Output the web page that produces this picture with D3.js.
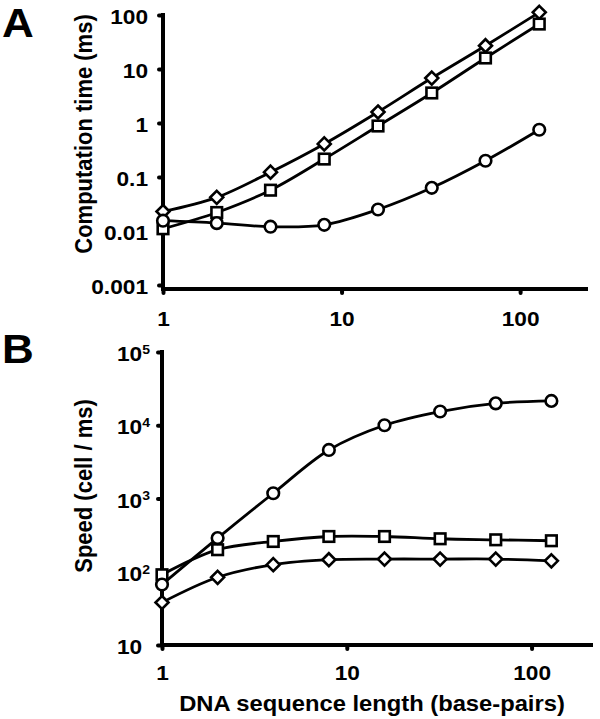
<!DOCTYPE html>
<html><head><meta charset="utf-8">
<script src="https://cdn.jsdelivr.net/npm/d3@7"></script>
<style>
body{margin:0;background:#fff;}
text{font-family:"Liberation Sans",Arial,sans-serif;font-weight:bold;fill:#000;}
</style></head>
<body><svg id="c" width="600" height="719"></svg>
<script>
const lengths = [1,2,4,8,16,32,64,128];
const timeDiamond = [0.023,0.042,0.123,0.41,1.6,6.8,27,112];
const timeSquare  = [0.011,0.022,0.057,0.215,0.88,3.6,16,68];
const timeCircle  = [0.0155,0.014,0.012,0.013,0.025,0.063,0.2,0.75];
const speedCircle  = [67,288,1180,4600,10000,15400,19900,21500];
const speedSquare  = [91,200,259,303,303,282,273,265];
const speedDiamond = [38,84,125,146,149,149,149,141];
const xTicks = [1,10,100];
const xTickLabels = ["1","10","100"];
const timeTicks = [0.001,0.01,0.1,1,10,100];
const timeTickLabels = ["0.001","0.01","0.1","1","10","100"];
const speedTicks = [10,100,1000,10000,100000];
const speedTickLabels = [["10",""],["10","2"],["10","3"],["10","4"],["10","5"]];

const SX = 1.08; // horizontal text widening
const svg = d3.select("#c");

function panel(cfg){
  const g = svg.append("g");
  const x = cfg.x, y = cfg.y;
  g.append("line").attr("x1",x.range()[0]).attr("x2",x.range()[0])
    .attr("y1",cfg.yTop).attr("y2",cfg.xAxisY+2).attr("stroke","#000").attr("stroke-width",4);
  g.append("line").attr("x1",x.range()[0]-2).attr("x2",x.range()[1])
    .attr("y1",cfg.xAxisY).attr("y2",cfg.xAxisY).attr("stroke","#000").attr("stroke-width",4);
  const ya = d3.axisLeft(y).tickValues(cfg.yTicks).tickSize(4).tickSizeOuter(0).tickFormat(()=> "");
  const yg = g.append("g").attr("transform",`translate(${x.range()[0]},0)`).call(ya);
  yg.select(".domain").remove();
  yg.selectAll(".tick text").remove();
  yg.selectAll(".tick line").attr("stroke-width",4).attr("stroke-linecap","round");
  yg.selectAll(".tick").each(function(d,i){
    const t = d3.select(this).append("text")
      .attr("transform",`translate(${cfg.yLabelX - x.range()[0]},1) scale(${SX},1)`)
      .attr("dy","0.36em").attr("text-anchor","end").style("font-size","21px");
    cfg.yLabel(t,i);
  });
  const xa = d3.axisBottom(x).tickValues(xTicks).tickSize(4).tickSizeOuter(0).tickFormat(()=> "");
  const xg = g.append("g").attr("transform",`translate(0,${cfg.xAxisY})`).call(xa);
  xg.select(".domain").remove();
  xg.selectAll(".tick text").remove();
  xg.selectAll(".tick line").attr("stroke-width",4).attr("stroke-linecap","round");
  xg.selectAll(".tick").each(function(d,i){
    d3.select(this).append("text").attr("transform",`translate(0,${cfg.xLabelDy}) scale(${SX},1)`)
      .attr("text-anchor","middle").style("font-size","21px").text(xTickLabels[i]);
  });
  const line = d3.line().x((d,i)=>x(lengths[i])).y(d=>y(d)).curve(d3.curveCatmullRom.alpha(0.5));
  cfg.series.forEach(s=>{
    g.append("path").attr("d",line(s.values)).attr("fill","none").attr("stroke","#000").attr("stroke-width",2.8);
  });
  cfg.series.forEach(s=>{
    const m = g.append("g");
    s.values.forEach((v,i)=>{
      const cx = x(lengths[i]), cy = y(v);
      if(s.shape==="circle"){
        m.append("circle").attr("cx",cx).attr("cy",cy).attr("r",5.8)
          .attr("fill","#fff").attr("stroke","#000").attr("stroke-width",2.6);
      } else if(s.shape==="square"){
        m.append("rect").attr("x",cx-5.3).attr("y",cy-5.3).attr("width",10.6).attr("height",10.6)
          .attr("fill","#fff").attr("stroke","#000").attr("stroke-width",2.6);
      } else {
        const r = 6.5;
        m.append("path").attr("d",`M${cx},${cy-r}L${cx+r},${cy}L${cx},${cy+r}L${cx-r},${cy}Z`)
          .attr("fill","#fff").attr("stroke","#000").attr("stroke-width",2.6);
      }
    });
  });
  g.append("text").attr("transform",`translate(${cfg.yTitleX},${cfg.yTitleY}) rotate(-90) scale(1,1.12)`)
    .attr("text-anchor","middle").style("font-size","22px").text(cfg.yTitle);
  g.append("text").attr("transform",`translate(2,${cfg.letterY}) scale(1.1,1)`).style("font-size","40px").text(cfg.letter);
  if(cfg.xTitle){
    g.append("text").attr("transform",`translate(${cfg.xTitleX},${cfg.xTitleY}) scale(${SX},1)`)
      .attr("text-anchor","middle").style("font-size","22px").text(cfg.xTitle);
  }
}

panel({
  x: d3.scaleLog().domain([1,240]).range([163,588]),
  y: d3.scaleLog().domain([0.001,100]).range([285,15]),
  yTop: 13, xAxisY: 289,
  yTicks: timeTicks,
  yLabelX: 148,
  yLabel: (t,i)=>t.text(timeTickLabels[i]),
  xLabelDy: 37,
  series: [
    {shape:"diamond", values: timeDiamond},
    {shape:"square", values: timeSquare},
    {shape:"circle", values: timeCircle}
  ],
  yTitle: "Computation time (ms)", yTitleX: 92, yTitleY: 134,
  letter: "A", letterY: 37
});

panel({
  x: d3.scaleLog().domain([1,215]).range([162,593]),
  y: d3.scaleLog().domain([10,100000]).range([645,352]),
  yTop: 350, xAxisY: 645,
  yTicks: speedTicks,
  yLabelX: 150,
  yLabel: (t,i)=>{
    const [b,e] = speedTickLabels[i];
    t.append("tspan").text(b);
    if(e) t.append("tspan").attr("dy","-0.55em").style("font-size","13px").text(e);
    else t.append("tspan").style("font-size","13px").text("\u2007");
  },
  xLabelDy: 35,
  series: [
    {shape:"diamond", values: speedDiamond},
    {shape:"square", values: speedSquare},
    {shape:"circle", values: speedCircle}
  ],
  yTitle: "Speed (cell / ms)", yTitleX: 92, yTitleY: 486,
  letter: "B", letterY: 363,
  xTitle: "DNA sequence length (base-pairs)", xTitleX: 372, xTitleY: 711
});
</script></body></html>
